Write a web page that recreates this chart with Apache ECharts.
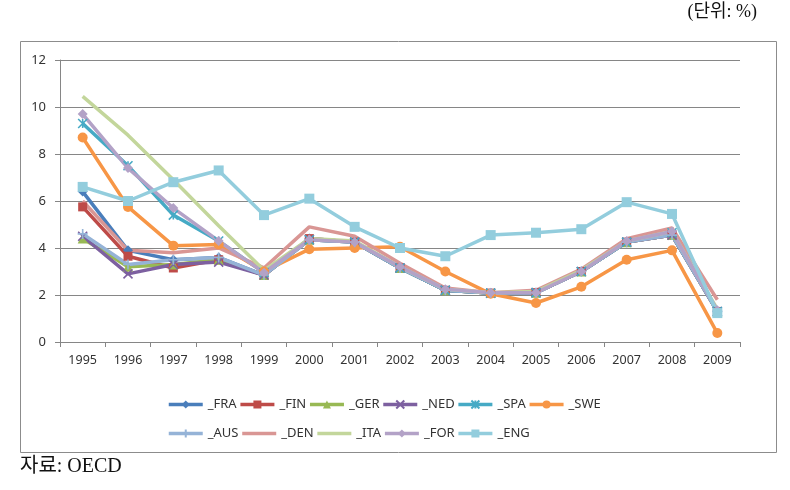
<!DOCTYPE html>
<html><head><meta charset="utf-8">
<script src="https://cdn.jsdelivr.net/npm/echarts@6/dist/echarts.min.js"></script>
<style>html,body{margin:0;padding:0;background:#fff}#c{width:790px;height:490px}</style>
</head><body><div id="c"></div>
<script>
const years = ['1995','1996','1997','1998','1999','2000','2001','2002','2003','2004','2005','2006','2007','2008','2009'];
const yTicks = [0, 2, 4, 6, 8, 10, 12];
const FRA = [6.4, 3.9, 3.5, 3.6, 2.85, 4.4, 4.25, 3.15, 2.2, 2.08, 2.1, 3.0, 4.25, 4.55, 1.3];
const FIN = [5.75, 3.65, 3.15, 3.5, 2.85, 4.4, 4.25, 3.15, 2.2, 2.08, 2.1, 3.0, 4.25, 4.55, 1.3];
const GER = [4.4, 3.2, 3.3, 3.5, 2.85, 4.35, 4.25, 3.15, 2.2, 2.08, 2.1, 3.0, 4.25, 4.55, 1.3];
const NED = [4.5, 2.9, 3.3, 3.4, 2.85, 4.35, 4.25, 3.15, 2.2, 2.08, 2.1, 3.0, 4.25, 4.55, 1.3];
const SPA = [9.3, 7.5, 5.4, 4.3, 2.95, 4.35, 4.25, 3.15, 2.2, 2.08, 2.1, 3.0, 4.25, 4.65, 1.3];
const SWE = [8.7, 5.75, 4.1, 4.15, 3.0, 3.95, 4.0, 4.05, 3.0, 2.05, 1.66, 2.35, 3.5, 3.9, 0.38];
const AUS = [4.6, 3.3, 3.5, 3.6, 2.85, 4.35, 4.25, 3.15, 2.2, 2.08, 2.1, 3.0, 4.25, 4.55, 1.3];
const DEN = [6.0, 3.9, 3.8, 4.0, 3.15, 4.9, 4.5, 3.35, 2.3, 2.1, 2.2, 3.1, 4.4, 4.85, 1.8];
const ITA = [10.45, 8.8, 6.9, 4.95, 3.05, 4.4, 4.3, 3.2, 2.25, 2.1, 2.15, 3.05, 4.3, 4.7, 1.4];
const FOR = [9.7, 7.4, 5.7, 4.3, 2.95, 4.35, 4.25, 3.2, 2.25, 2.1, 2.1, 3.0, 4.3, 4.7, 1.35];
const ENG = [6.6, 6.0, 6.8, 7.3, 5.4, 6.1, 4.9, 4.0, 3.65, 4.55, 4.65, 4.8, 5.95, 5.45, 1.23];

const seriesDefs = [
  ['_FRA', FRA, '#4A7EBB', 'diamond', 10, false],
  ['_FIN', FIN, '#BE4B48', 'rect', 9, false],
  ['_GER', GER, '#98B954', 'triangle', 10, false],
  ['_NED', NED, '#7D60A0', 'path://M0,0L10,10M10,0L0,10', 9, true],
  ['_SPA', SPA, '#46AAC5', 'path://M0,0L10,10M10,0L0,10M5,0L5,10', 9, true],
  ['_SWE', SWE, '#F79646', 'circle', 10, false],
  ['_AUS', AUS, '#95B3D7', 'path://M5,0L5,10M0,5L10,5', 10, true],
  ['_DEN', DEN, '#D99694', 'none', 0, false],
  ['_ITA', ITA, '#C3D69B', 'none', 0, false],
  ['_FOR', FOR, '#B3A2C7', 'diamond', 10, false],
  ['_ENG', ENG, '#93CDDD', 'rect', 10, false]
];

const series = seriesDefs.map(([name, data, color, sym, size, stroke]) => ({
  name: name, type: 'line', data: data, symbol: sym, symbolSize: size,
  showSymbol: sym !== 'none',
  lineStyle: {color: color, width: 3.5},
  itemStyle: stroke ? {color: color, borderColor: color, borderWidth: 1.6} : {color: color},
  emphasis: {disabled: true}, animation: false
}));

function legendItems(names) {
  return names.map(n => {
    const def = seriesDefs.find(d => d[0] === n);
    return def[3] === 'none' ? {name: n, itemStyle: {opacity: 0}} : {name: n};
  });
}

const legendBase = {
  left: 162, itemWidth: 34, itemHeight: 10, itemGap: 2,
  lineStyle: {width: 3.5},
  textStyle: {fontFamily: 'Noto Sans, sans-serif', fontSize: 13, color: '#333', width: 36, overflow: 'none'}
};

const chart = echarts.init(document.getElementById('c'));
chart.setOption({
  animation: false,
  grid: {left: 60, right: 50, top: 60, bottom: 148},
  graphic: [
    {type: 'rect', shape: {x: 20.5, y: 41.5, width: 756, height: 411}, style: {fill: 'none', stroke: '#8c8c8c', lineWidth: 1}, z: -1},
    {type: 'text', right: 33, top: 3, style: {text: '(단위: %)', font: '18px "Liberation Serif", "Noto Sans CJK KR", serif', fill: '#111'}},
    {type: 'text', left: 20, top: 457, style: {text: '자료: OECD', font: '20px "Liberation Serif", "Noto Sans CJK KR", serif', fill: '#111'}}
  ],
  legend: [
    Object.assign({}, legendBase, {top: 393, data: legendItems(['_FRA','_FIN','_GER','_NED','_SPA','_SWE'])}),
    Object.assign({}, legendBase, {top: 422, data: legendItems(['_AUS','_DEN','_ITA','_FOR','_ENG'])})
  ],
  xAxis: {
    type: 'category', data: years, boundaryGap: true,
    axisLine: {lineStyle: {color: '#868686'}},
    axisTick: {show: true, length: 5, lineStyle: {color: '#868686'}},
    axisLabel: {fontFamily: 'Noto Sans, sans-serif', fontSize: 12.5, color: '#333', margin: 12}
  },
  yAxis: {
    type: 'value', min: yTicks[0], max: yTicks[yTicks.length - 1], interval: 2,
    axisLine: {show: true, lineStyle: {color: '#868686'}},
    axisTick: {show: true, length: 5, lineStyle: {color: '#868686'}},
    splitLine: {lineStyle: {color: '#868686'}},
    axisLabel: {fontFamily: 'Noto Sans, sans-serif', fontSize: 13, color: '#333', margin: 14}
  },
  series: series
});
</script></body></html>
